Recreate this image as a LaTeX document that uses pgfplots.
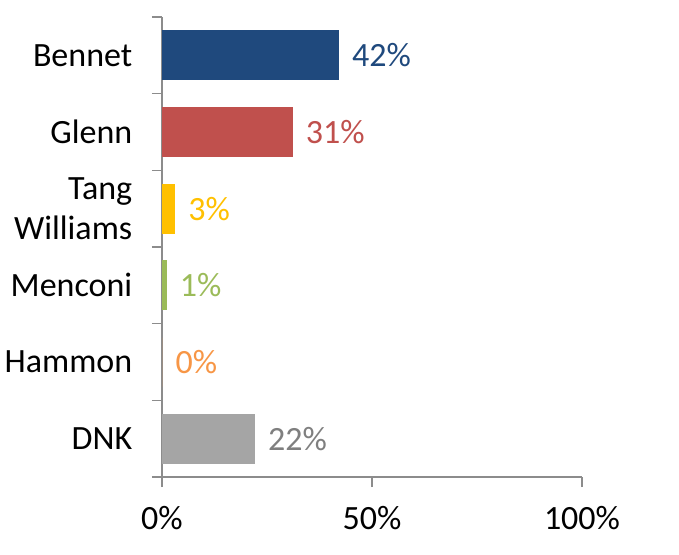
\documentclass[border=0pt]{standalone}
\usepackage{pgfplots}
\pgfplotsset{compat=1.18}
\usepackage{fontspec}
\setmainfont{Carlito}
\definecolor{cBlue}{HTML}{1F497D}
\definecolor{cRed}{HTML}{C0504D}
\definecolor{cGold}{HTML}{FFC000}
\definecolor{cGreen}{HTML}{9BBB59}
\definecolor{cOrange}{HTML}{F79646}
\definecolor{cGray}{HTML}{A5A5A5}
\definecolor{cGrayTxt}{HTML}{7F7F7F}
\definecolor{axisgray}{HTML}{8C8C8C}
\begin{document}
\fontsize{17}{20}\selectfont
\begin{tikzpicture}
\useasboundingbox (-81pt,-38.5pt) rectangle (258.5pt,238.5pt);
\begin{axis}[
  at={(0pt,0pt)}, anchor=south west,
  scale only axis, width=210pt, height=230pt,
  /pgf/number format/assume math mode=true,
  xbar, bar shift=0pt, bar width=24.5pt,
  xmin=0, xmax=100, ymin=-0.5, ymax=5.5, y dir=reverse,
  axis x line*=bottom, axis y line*=left,
  axis line style={draw=axisgray, line width=0.75pt, -},
  tick align=outside, major tick length=5pt,
  tick style={draw=axisgray, line width=0.75pt},
  xtick={0,50,100}, xticklabels={0\%,50\%,100\%},
  xticklabel style={yshift=-4pt},
  ytick={-0.5,0.5,1.5,2.5,3.5,4.5,5.5}, yticklabels={},
  extra y ticks={0,1,2,3,4,5},
  extra y tick labels={Bennet,Glenn,{Tang\\Williams},Menconi,Hammon,DNK},
  extra y tick style={major tick length=0pt, yticklabel style={align=right, xshift=-9pt}},
  point meta=x,
  nodes near coords={\pgfmathprintnumber{\pgfplotspointmeta}\%},
  nodes near coords align={horizontal},
  every node near coord/.append style={xshift=1pt},
]
\addplot[fill=cBlue, draw=cBlue, nodes near coords style={text=cBlue}] coordinates {(42,0)};
\addplot[fill=cRed, draw=cRed, nodes near coords style={text=cRed}] coordinates {(31,1)};
\addplot[fill=cGold, draw=cGold, nodes near coords style={text=cGold}] coordinates {(3,2)};
\addplot[fill=cGreen, draw=cGreen, nodes near coords style={text=cGreen}] coordinates {(1,3)};
\addplot[fill=cOrange, draw=none, nodes near coords style={text=cOrange}] coordinates {(0,4)};
\addplot[fill=cGray, draw=cGray, nodes near coords style={text=cGrayTxt}] coordinates {(22,5)};
\end{axis}
\end{tikzpicture}
\end{document}
